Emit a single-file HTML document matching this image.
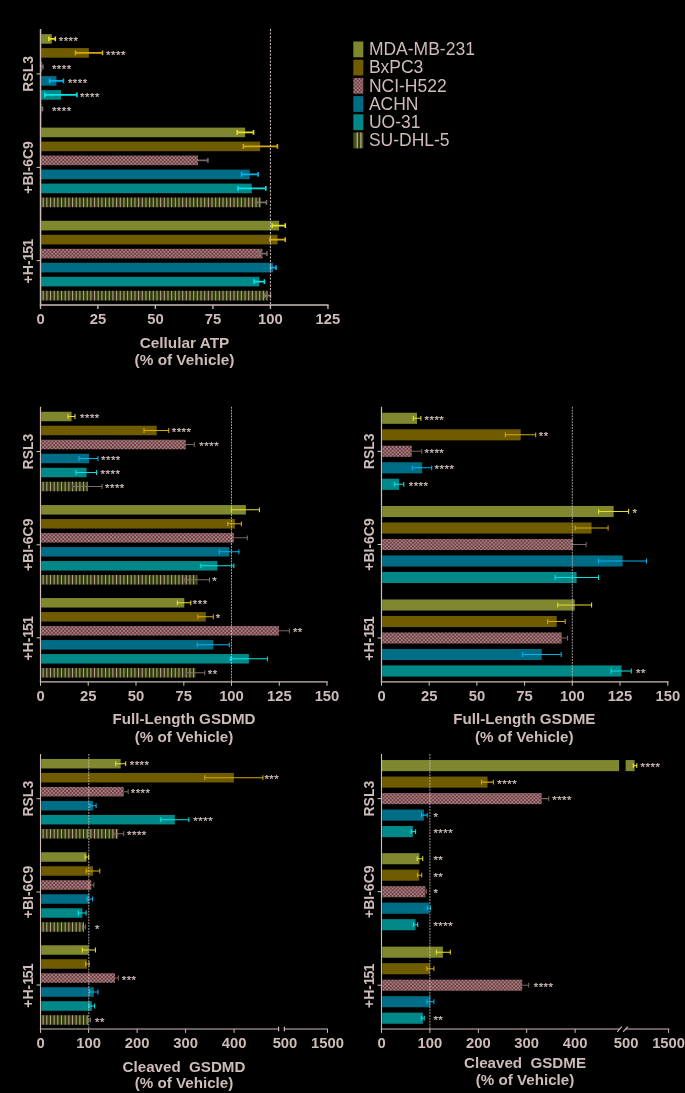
<!DOCTYPE html>
<html><head><meta charset="utf-8"><title>Figure</title>
<style>html,body{margin:0;padding:0;background:#000;}body{width:685px;height:1093px;overflow:hidden;font-family:"Liberation Sans",sans-serif;}svg{display:block;will-change:transform}</style>
</head><body>
<svg width="685" height="1093" viewBox="0 0 685 1093" font-family="'Liberation Sans', sans-serif" fill="#cdbcb9">
<defs>
<pattern id="chk" x="42.1" y="0.74" width="3.68" height="3.68" patternUnits="userSpaceOnUse">
<rect width="3.68" height="3.68" fill="#7b3438"/><rect x="0" y="0" width="1.84" height="1.84" fill="#978689"/><rect x="1.84" y="1.84" width="1.84" height="1.84" fill="#978689"/>
</pattern>
<pattern id="str" x="42.3" y="0" width="3.67" height="20" patternUnits="userSpaceOnUse">
<rect width="3.67" height="20" fill="#3a4709"/><rect x="0" y="0" width="1.35" height="20" fill="#9a8a7e"/>
</pattern>
<pattern id="strleg" x="356.6" y="0" width="3.67" height="20" patternUnits="userSpaceOnUse">
<rect width="3.67" height="20" fill="#47530f"/><rect x="0" y="0" width="1.4" height="20" fill="#b39f96"/>
</pattern>
</defs>
<rect width="685" height="1093" fill="#000"/>
<rect x="41.25" y="34.10" width="10.55" height="9.60" fill="#7f882f"/>
<path d="M48.80 38.90H55.30M55.30 36.50v4.8M48.80 36.50v4.8" stroke="#e6e02a" stroke-width="1.6" fill="none"/>
<text x="58.70" y="44.50" font-size="11.5" letter-spacing="0.47" text-anchor="start" font-weight="normal" stroke="#cdbcb9" stroke-width="0.25">****</text>
<rect x="41.25" y="48.10" width="47.65" height="9.60" fill="#6f5c00"/>
<path d="M75.50 52.90H102.50M102.50 50.50v4.8M75.50 50.50v4.8" stroke="#d6aa00" stroke-width="1.6" fill="none"/>
<text x="106.10" y="58.50" font-size="11.5" letter-spacing="0.47" text-anchor="start" font-weight="normal" stroke="#cdbcb9" stroke-width="0.25">****</text>
<rect x="41.25" y="62.10" width="0.85" height="9.60" fill="url(#chk)"/>
<path d="M42.10 66.90H42.90M42.90 64.50v4.8" stroke="#7a6666" stroke-width="1.6" fill="none"/>
<text x="51.90" y="72.50" font-size="11.5" letter-spacing="0.47" text-anchor="start" font-weight="normal" stroke="#cdbcb9" stroke-width="0.25">****</text>
<rect x="41.25" y="76.10" width="15.25" height="9.60" fill="#006d87"/>
<path d="M49.60 80.90H63.40M63.40 78.50v4.8M49.60 78.50v4.8" stroke="#00b4ee" stroke-width="1.6" fill="none"/>
<text x="67.90" y="86.50" font-size="11.5" letter-spacing="0.47" text-anchor="start" font-weight="normal" stroke="#cdbcb9" stroke-width="0.25">****</text>
<rect x="41.25" y="90.10" width="19.75" height="9.60" fill="#008988"/>
<path d="M44.80 94.90H76.90M76.90 92.50v4.8M44.80 92.50v4.8" stroke="#00e6e6" stroke-width="1.6" fill="none"/>
<text x="80.10" y="100.50" font-size="11.5" letter-spacing="0.47" text-anchor="start" font-weight="normal" stroke="#cdbcb9" stroke-width="0.25">****</text>
<rect x="41.25" y="104.10" width="0.65" height="9.60" fill="#2f3e05"/>
<path d="M41.25 108.90H41.90" stroke="#b89c98" stroke-width="9.60" stroke-dasharray="1.1 2.57" stroke-dashoffset="2.27" fill="none"/>
<path d="M41.90 108.90H42.50M42.50 106.50v4.8" stroke="#7c7068" stroke-width="1.6" fill="none"/>
<text x="51.90" y="114.50" font-size="11.5" letter-spacing="0.47" text-anchor="start" font-weight="normal" stroke="#cdbcb9" stroke-width="0.25">****</text>
<rect x="41.25" y="127.60" width="203.85" height="9.60" fill="#7f882f"/>
<path d="M237.20 132.40H253.50M253.50 130.00v4.8M237.20 130.00v4.8" stroke="#e6e02a" stroke-width="1.6" fill="none"/>
<rect x="41.25" y="141.60" width="218.85" height="9.60" fill="#6f5c00"/>
<path d="M243.40 146.40H277.40M277.40 144.00v4.8M243.40 144.00v4.8" stroke="#d6aa00" stroke-width="1.6" fill="none"/>
<rect x="41.25" y="155.60" width="156.75" height="9.60" fill="url(#chk)"/>
<path d="M198.00 160.40H207.90M207.90 158.00v4.8" stroke="#7a6666" stroke-width="1.6" fill="none"/>
<rect x="41.25" y="169.60" width="208.55" height="9.60" fill="#006d87"/>
<path d="M241.50 174.40H258.10M258.10 172.00v4.8M241.50 172.00v4.8" stroke="#00b4ee" stroke-width="1.6" fill="none"/>
<rect x="41.25" y="183.60" width="210.55" height="9.60" fill="#008988"/>
<path d="M238.00 188.40H265.80M265.80 186.00v4.8M238.00 186.00v4.8" stroke="#00e6e6" stroke-width="1.6" fill="none"/>
<rect x="41.25" y="197.60" width="219.55" height="9.60" fill="#2f3e05"/>
<path d="M41.25 202.40H260.80" stroke="#b89c98" stroke-width="9.60" stroke-dasharray="1.1 2.57" stroke-dashoffset="2.27" fill="none"/>
<path d="M256.00 202.40H266.50M266.50 200.00v4.8M256.00 200.00v4.8" stroke="#7c7068" stroke-width="1.6" fill="none"/>
<rect x="41.25" y="220.80" width="237.85" height="9.60" fill="#7f882f"/>
<path d="M272.20 225.60H285.30M285.30 223.20v4.8M272.20 223.20v4.8" stroke="#e6e02a" stroke-width="1.6" fill="none"/>
<rect x="41.25" y="234.80" width="236.35" height="9.60" fill="#6f5c00"/>
<path d="M270.00 239.60H285.20M285.20 237.20v4.8M270.00 237.20v4.8" stroke="#d6aa00" stroke-width="1.6" fill="none"/>
<rect x="41.25" y="248.80" width="221.15" height="9.60" fill="url(#chk)"/>
<path d="M258.00 253.60H266.90M266.90 251.20v4.8M258.00 251.20v4.8" stroke="#7a6666" stroke-width="1.6" fill="none"/>
<rect x="41.25" y="262.80" width="231.75" height="9.60" fill="#006d87"/>
<path d="M270.50 267.60H276.00M276.00 265.20v4.8M270.50 265.20v4.8" stroke="#00b4ee" stroke-width="1.6" fill="none"/>
<rect x="41.25" y="276.80" width="218.05" height="9.60" fill="#008988"/>
<path d="M254.20 281.60H264.40M264.40 279.20v4.8M254.20 279.20v4.8" stroke="#00e6e6" stroke-width="1.6" fill="none"/>
<rect x="41.25" y="290.80" width="226.25" height="9.60" fill="#2f3e05"/>
<path d="M41.25 295.60H267.50" stroke="#b89c98" stroke-width="9.60" stroke-dasharray="1.1 2.57" stroke-dashoffset="2.27" fill="none"/>
<path d="M264.60 295.60H270.50M270.50 293.20v4.8M264.60 293.20v4.8" stroke="#7c7068" stroke-width="1.6" fill="none"/>
<path d="M270.40 29.00V305.00" stroke="#cdbcb9" stroke-width="1" stroke-opacity="1" stroke-dasharray="2.2 1.3" fill="none"/>
<path d="M40.55 29.00V305.70" stroke="#cdbcb9" stroke-width="1.5" fill="none"/>
<path d="M39.85 305.00H328.60" stroke="#cdbcb9" stroke-width="1.5" fill="none"/>
<path d="M40.50 305.00v3.9" stroke="#cdbcb9" stroke-width="1.35" fill="none"/>
<text x="40.5" y="323.7" font-size="14.8" font-weight="bold" text-anchor="middle">0</text>
<path d="M97.90 305.00v3.9" stroke="#cdbcb9" stroke-width="1.35" fill="none"/>
<text x="97.9" y="323.7" font-size="14.8" font-weight="bold" text-anchor="middle">25</text>
<path d="M155.40 305.00v3.9" stroke="#cdbcb9" stroke-width="1.35" fill="none"/>
<text x="155.4" y="323.7" font-size="14.8" font-weight="bold" text-anchor="middle">50</text>
<path d="M212.90 305.00v3.9" stroke="#cdbcb9" stroke-width="1.35" fill="none"/>
<text x="212.9" y="323.7" font-size="14.8" font-weight="bold" text-anchor="middle">75</text>
<path d="M270.40 305.00v3.9" stroke="#cdbcb9" stroke-width="1.35" fill="none"/>
<text x="270.4" y="323.7" font-size="14.8" font-weight="bold" text-anchor="middle">100</text>
<path d="M327.95 305.00v3.9" stroke="#cdbcb9" stroke-width="1.35" fill="none"/>
<text x="327.95" y="323.7" font-size="14.8" font-weight="bold" text-anchor="middle">125</text>
<path d="M36.55 73.90H40.55" stroke="#cdbcb9" stroke-width="1.05" fill="none"/>
<text x="33.349999999999994" y="73.9" font-size="14" font-weight="bold" text-anchor="middle" transform="rotate(-90 33.349999999999994 73.9)">RSL3</text>
<path d="M36.55 167.40H40.55" stroke="#cdbcb9" stroke-width="1.05" fill="none"/>
<text x="33.349999999999994" y="167.4" font-size="14" font-weight="bold" text-anchor="middle" transform="rotate(-90 33.349999999999994 167.4)">+BI-6C9</text>
<path d="M36.55 260.60H40.55" stroke="#cdbcb9" stroke-width="1.05" fill="none"/>
<text x="33.349999999999994" y="261.20000000000005" font-size="14" font-weight="bold" text-anchor="middle" transform="rotate(-90 33.349999999999994 261.20000000000005)">+H-1<tspan dx="-1.2">5</tspan><tspan dx="-0.8">1</tspan></text>
<text x="184.5" y="347.5" font-size="15.35" font-weight="bold" text-anchor="middle" xml:space="preserve" style="white-space:pre">Cellular ATP</text>
<text x="184.5" y="365.0" font-size="15.35" font-weight="bold" text-anchor="middle">(% of Vehicle)</text>
<rect x="41.20" y="411.75" width="30.40" height="9.50" fill="#7f882f"/>
<path d="M68.00 416.50H75.00M75.00 414.10v4.8M68.00 414.10v4.8" stroke="#e6e02a" stroke-width="1.05" fill="none"/>
<text x="80.00" y="422.10" font-size="11.5" letter-spacing="0.47" text-anchor="start" font-weight="normal" stroke="#cdbcb9" stroke-width="0.25">****</text>
<rect x="41.20" y="425.75" width="115.50" height="9.50" fill="#6f5c00"/>
<path d="M144.00 430.50H168.70M168.70 428.10v4.8M144.00 428.10v4.8" stroke="#d6aa00" stroke-width="1.05" fill="none"/>
<text x="171.70" y="436.10" font-size="11.5" letter-spacing="0.47" text-anchor="start" font-weight="normal" stroke="#cdbcb9" stroke-width="0.25">****</text>
<rect x="41.20" y="439.75" width="144.60" height="9.50" fill="url(#chk)"/>
<path d="M185.80 444.50H194.30M194.30 442.10v4.8" stroke="#7a6666" stroke-width="1.05" fill="none"/>
<text x="199.30" y="450.10" font-size="11.5" letter-spacing="0.47" text-anchor="start" font-weight="normal" stroke="#cdbcb9" stroke-width="0.25">****</text>
<rect x="41.20" y="453.75" width="47.80" height="9.50" fill="#006d87"/>
<path d="M79.00 458.50H98.00M98.00 456.10v4.8M79.00 456.10v4.8" stroke="#00b4ee" stroke-width="1.05" fill="none"/>
<text x="101.00" y="464.10" font-size="11.5" letter-spacing="0.47" text-anchor="start" font-weight="normal" stroke="#cdbcb9" stroke-width="0.25">****</text>
<rect x="41.20" y="467.75" width="45.40" height="9.50" fill="#008988"/>
<path d="M76.00 472.50H96.60M96.60 470.10v4.8M76.00 470.10v4.8" stroke="#00e6e6" stroke-width="1.05" fill="none"/>
<text x="100.60" y="478.10" font-size="11.5" letter-spacing="0.47" text-anchor="start" font-weight="normal" stroke="#cdbcb9" stroke-width="0.25">****</text>
<rect x="41.20" y="481.75" width="46.40" height="9.50" fill="#2f3e05"/>
<path d="M41.20 486.50H87.60" stroke="#b89c98" stroke-width="9.50" stroke-dasharray="1.1 2.57" stroke-dashoffset="2.27" fill="none"/>
<path d="M72.60 486.50H102.00M102.00 484.10v4.8M72.60 484.10v4.8" stroke="#7c7068" stroke-width="1.05" fill="none"/>
<text x="105.00" y="492.10" font-size="11.5" letter-spacing="0.47" text-anchor="start" font-weight="normal" stroke="#cdbcb9" stroke-width="0.25">****</text>
<rect x="41.20" y="505.05" width="204.70" height="9.50" fill="#7f882f"/>
<path d="M231.30 509.80H259.40M259.40 507.40v4.8M231.30 507.40v4.8" stroke="#e6e02a" stroke-width="1.05" fill="none"/>
<rect x="41.20" y="519.05" width="193.70" height="9.50" fill="#6f5c00"/>
<path d="M227.80 523.80H241.40M241.40 521.40v4.8M227.80 521.40v4.8" stroke="#d6aa00" stroke-width="1.05" fill="none"/>
<rect x="41.20" y="533.05" width="192.70" height="9.50" fill="url(#chk)"/>
<path d="M233.90 537.80H247.40M247.40 535.40v4.8" stroke="#7a6666" stroke-width="1.05" fill="none"/>
<rect x="41.20" y="547.05" width="188.10" height="9.50" fill="#006d87"/>
<path d="M219.30 551.80H238.90M238.90 549.40v4.8M219.30 549.40v4.8" stroke="#00b4ee" stroke-width="1.05" fill="none"/>
<rect x="41.20" y="561.05" width="176.10" height="9.50" fill="#008988"/>
<path d="M200.80 565.80H233.90M233.90 563.40v4.8M200.80 563.40v4.8" stroke="#00e6e6" stroke-width="1.05" fill="none"/>
<rect x="41.20" y="575.05" width="156.00" height="9.50" fill="#2f3e05"/>
<path d="M41.20 579.80H197.20" stroke="#b89c98" stroke-width="9.50" stroke-dasharray="1.1 2.57" stroke-dashoffset="2.27" fill="none"/>
<path d="M185.00 579.80H209.50M209.50 577.40v4.8M185.00 577.40v4.8" stroke="#7c7068" stroke-width="1.05" fill="none"/>
<text x="212.30" y="585.40" font-size="11.5" letter-spacing="0.47" text-anchor="start" font-weight="normal" stroke="#cdbcb9" stroke-width="0.25">*</text>
<rect x="41.20" y="598.05" width="143.10" height="9.50" fill="#7f882f"/>
<path d="M177.30 602.80H190.80M190.80 600.40v4.8M177.30 600.40v4.8" stroke="#e6e02a" stroke-width="1.05" fill="none"/>
<text x="192.80" y="608.40" font-size="11.5" letter-spacing="0.47" text-anchor="start" font-weight="normal" stroke="#cdbcb9" stroke-width="0.25">***</text>
<rect x="41.20" y="612.05" width="164.60" height="9.50" fill="#6f5c00"/>
<path d="M197.80 616.80H213.30M213.30 614.40v4.8M197.80 614.40v4.8" stroke="#d6aa00" stroke-width="1.05" fill="none"/>
<text x="215.80" y="622.40" font-size="11.5" letter-spacing="0.47" text-anchor="start" font-weight="normal" stroke="#cdbcb9" stroke-width="0.25">*</text>
<rect x="41.20" y="626.05" width="237.70" height="9.50" fill="url(#chk)"/>
<path d="M278.90 630.80H289.40M289.40 628.40v4.8" stroke="#7a6666" stroke-width="1.05" fill="none"/>
<text x="292.90" y="636.40" font-size="11.5" letter-spacing="0.47" text-anchor="start" font-weight="normal" stroke="#cdbcb9" stroke-width="0.25">**</text>
<rect x="41.20" y="640.05" width="172.10" height="9.50" fill="#006d87"/>
<path d="M197.30 644.80H229.30M229.30 642.40v4.8M197.30 642.40v4.8" stroke="#00b4ee" stroke-width="1.05" fill="none"/>
<rect x="41.20" y="654.05" width="207.70" height="9.50" fill="#008988"/>
<path d="M230.30 658.80H267.40M267.40 656.40v4.8M230.30 656.40v4.8" stroke="#00e6e6" stroke-width="1.05" fill="none"/>
<rect x="41.20" y="668.05" width="154.40" height="9.50" fill="#2f3e05"/>
<path d="M41.20 672.80H195.60" stroke="#b89c98" stroke-width="9.50" stroke-dasharray="1.1 2.57" stroke-dashoffset="2.27" fill="none"/>
<path d="M186.40 672.80H204.80M204.80 670.40v4.8M186.40 670.40v4.8" stroke="#7c7068" stroke-width="1.05" fill="none"/>
<text x="207.80" y="678.40" font-size="11.5" letter-spacing="0.47" text-anchor="start" font-weight="normal" stroke="#cdbcb9" stroke-width="0.25">**</text>
<path d="M231.50 406.80V681.90" stroke="#cdbcb9" stroke-width="1" stroke-opacity="0.85" stroke-dasharray="1.85 1.05" fill="none"/>
<path d="M40.50 406.80V682.60" stroke="#cdbcb9" stroke-width="1.2" fill="none"/>
<path d="M39.85 681.90H327.70" stroke="#cdbcb9" stroke-width="1.2" fill="none"/>
<path d="M40.50 681.90v3.9" stroke="#cdbcb9" stroke-width="1.05" fill="none"/>
<text x="40.5" y="700.6" font-size="14.8" font-weight="bold" text-anchor="middle">0</text>
<path d="M88.25 681.90v3.9" stroke="#cdbcb9" stroke-width="1.05" fill="none"/>
<text x="88.25" y="700.6" font-size="14.8" font-weight="bold" text-anchor="middle">25</text>
<path d="M136.00 681.90v3.9" stroke="#cdbcb9" stroke-width="1.05" fill="none"/>
<text x="136.0" y="700.6" font-size="14.8" font-weight="bold" text-anchor="middle">50</text>
<path d="M183.80 681.90v3.9" stroke="#cdbcb9" stroke-width="1.05" fill="none"/>
<text x="183.8" y="700.6" font-size="14.8" font-weight="bold" text-anchor="middle">75</text>
<path d="M231.50 681.90v3.9" stroke="#cdbcb9" stroke-width="1.05" fill="none"/>
<text x="231.5" y="700.6" font-size="14.8" font-weight="bold" text-anchor="middle">100</text>
<path d="M279.30 681.90v3.9" stroke="#cdbcb9" stroke-width="1.05" fill="none"/>
<text x="279.3" y="700.6" font-size="14.8" font-weight="bold" text-anchor="middle">125</text>
<path d="M327.00 681.90v3.9" stroke="#cdbcb9" stroke-width="1.05" fill="none"/>
<text x="327.0" y="700.6" font-size="14.8" font-weight="bold" text-anchor="middle">150</text>
<path d="M36.50 451.50H40.50" stroke="#cdbcb9" stroke-width="1.05" fill="none"/>
<text x="33.3" y="451.5" font-size="14" font-weight="bold" text-anchor="middle" transform="rotate(-90 33.3 451.5)">RSL3</text>
<path d="M36.50 544.80H40.50" stroke="#cdbcb9" stroke-width="1.05" fill="none"/>
<text x="33.3" y="544.8" font-size="14" font-weight="bold" text-anchor="middle" transform="rotate(-90 33.3 544.8)">+BI-6C9</text>
<path d="M36.50 637.80H40.50" stroke="#cdbcb9" stroke-width="1.05" fill="none"/>
<text x="33.3" y="638.4" font-size="14" font-weight="bold" text-anchor="middle" transform="rotate(-90 33.3 638.4)">+H-1<tspan dx="-1.2">5</tspan><tspan dx="-0.8">1</tspan></text>
<text x="184" y="724.4" font-size="15.15" font-weight="bold" text-anchor="middle" xml:space="preserve" style="white-space:pre">Full-Length GSDMD</text>
<text x="184" y="741.9" font-size="15.15" font-weight="bold" text-anchor="middle">(% of Vehicle)</text>
<rect x="382.20" y="412.75" width="34.80" height="11.10" fill="#7f882f"/>
<path d="M413.30 418.30H420.90M420.90 415.90v4.8M413.30 415.90v4.8" stroke="#e6e02a" stroke-width="1.05" fill="none"/>
<text x="424.50" y="423.90" font-size="11.5" letter-spacing="0.47" text-anchor="start" font-weight="normal" stroke="#cdbcb9" stroke-width="0.25">****</text>
<rect x="382.20" y="429.25" width="138.50" height="11.10" fill="#6f5c00"/>
<path d="M505.30 434.80H535.70M535.70 432.40v4.8M505.30 432.40v4.8" stroke="#d6aa00" stroke-width="1.05" fill="none"/>
<text x="538.70" y="440.40" font-size="11.5" letter-spacing="0.47" text-anchor="start" font-weight="normal" stroke="#cdbcb9" stroke-width="0.25">**</text>
<rect x="382.20" y="445.75" width="29.50" height="11.10" fill="url(#chk)"/>
<path d="M411.70 451.30H421.80M421.80 448.90v4.8" stroke="#7a6666" stroke-width="1.05" fill="none"/>
<text x="424.50" y="456.90" font-size="11.5" letter-spacing="0.47" text-anchor="start" font-weight="normal" stroke="#cdbcb9" stroke-width="0.25">****</text>
<rect x="382.20" y="462.25" width="39.90" height="11.10" fill="#006d87"/>
<path d="M412.30 467.80H431.70M431.70 465.40v4.8M412.30 465.40v4.8" stroke="#00b4ee" stroke-width="1.05" fill="none"/>
<text x="434.60" y="473.40" font-size="11.5" letter-spacing="0.47" text-anchor="start" font-weight="normal" stroke="#cdbcb9" stroke-width="0.25">****</text>
<rect x="382.20" y="478.75" width="16.90" height="11.10" fill="#008988"/>
<path d="M394.60 484.30H403.80M403.80 481.90v4.8M394.60 481.90v4.8" stroke="#00e6e6" stroke-width="1.05" fill="none"/>
<text x="408.70" y="489.90" font-size="11.5" letter-spacing="0.47" text-anchor="start" font-weight="normal" stroke="#cdbcb9" stroke-width="0.25">****</text>
<rect x="382.20" y="505.95" width="231.40" height="11.10" fill="#7f882f"/>
<path d="M598.60 511.50H628.60M628.60 509.10v4.8M598.60 509.10v4.8" stroke="#e6e02a" stroke-width="1.05" fill="none"/>
<text x="632.60" y="517.10" font-size="11.5" letter-spacing="0.47" text-anchor="start" font-weight="normal" stroke="#cdbcb9" stroke-width="0.25">*</text>
<rect x="382.20" y="522.45" width="209.40" height="11.10" fill="#6f5c00"/>
<path d="M575.20 528.00H608.10M608.10 525.60v4.8M575.20 525.60v4.8" stroke="#d6aa00" stroke-width="1.05" fill="none"/>
<rect x="382.20" y="538.95" width="190.50" height="11.10" fill="url(#chk)"/>
<path d="M572.70 544.50H586.10M586.10 542.10v4.8" stroke="#7a6666" stroke-width="1.05" fill="none"/>
<rect x="382.20" y="555.45" width="240.40" height="11.10" fill="#006d87"/>
<path d="M598.60 561.00H646.50M646.50 558.60v4.8M598.60 558.60v4.8" stroke="#00b4ee" stroke-width="1.05" fill="none"/>
<rect x="382.20" y="571.95" width="194.40" height="11.10" fill="#008988"/>
<path d="M555.20 577.50H598.60M598.60 575.10v4.8M555.20 575.10v4.8" stroke="#00e6e6" stroke-width="1.05" fill="none"/>
<rect x="382.20" y="599.45" width="192.50" height="11.10" fill="#7f882f"/>
<path d="M557.70 605.00H591.60M591.60 602.60v4.8M557.70 602.60v4.8" stroke="#e6e02a" stroke-width="1.05" fill="none"/>
<rect x="382.20" y="615.95" width="174.50" height="11.10" fill="#6f5c00"/>
<path d="M547.70 621.50H565.20M565.20 619.10v4.8M547.70 619.10v4.8" stroke="#d6aa00" stroke-width="1.05" fill="none"/>
<rect x="382.20" y="632.45" width="179.50" height="11.10" fill="url(#chk)"/>
<path d="M561.70 638.00H567.50M567.50 635.60v4.8" stroke="#7a6666" stroke-width="1.05" fill="none"/>
<rect x="382.20" y="648.95" width="159.50" height="11.10" fill="#006d87"/>
<path d="M522.70 654.50H561.20M561.20 652.10v4.8M522.70 652.10v4.8" stroke="#00b4ee" stroke-width="1.05" fill="none"/>
<rect x="382.20" y="665.45" width="239.40" height="11.10" fill="#008988"/>
<path d="M611.10 671.00H631.30M631.30 668.60v4.8M611.10 668.60v4.8" stroke="#00e6e6" stroke-width="1.05" fill="none"/>
<text x="636.10" y="676.60" font-size="11.5" letter-spacing="0.47" text-anchor="start" font-weight="normal" stroke="#cdbcb9" stroke-width="0.25">**</text>
<path d="M572.30 406.80V681.80" stroke="#cdbcb9" stroke-width="1" stroke-opacity="0.85" stroke-dasharray="1.85 1.05" fill="none"/>
<path d="M381.50 406.80V682.50" stroke="#cdbcb9" stroke-width="1.2" fill="none"/>
<path d="M380.85 681.80H668.60" stroke="#cdbcb9" stroke-width="1.2" fill="none"/>
<path d="M381.50 681.80v3.9" stroke="#cdbcb9" stroke-width="1.05" fill="none"/>
<text x="381.5" y="700.5" font-size="14.8" font-weight="bold" text-anchor="middle">0</text>
<path d="M429.20 681.80v3.9" stroke="#cdbcb9" stroke-width="1.05" fill="none"/>
<text x="429.2" y="700.5" font-size="14.8" font-weight="bold" text-anchor="middle">25</text>
<path d="M476.90 681.80v3.9" stroke="#cdbcb9" stroke-width="1.05" fill="none"/>
<text x="476.9" y="700.5" font-size="14.8" font-weight="bold" text-anchor="middle">50</text>
<path d="M524.60 681.80v3.9" stroke="#cdbcb9" stroke-width="1.05" fill="none"/>
<text x="524.6" y="700.5" font-size="14.8" font-weight="bold" text-anchor="middle">75</text>
<path d="M572.30 681.80v3.9" stroke="#cdbcb9" stroke-width="1.05" fill="none"/>
<text x="572.3" y="700.5" font-size="14.8" font-weight="bold" text-anchor="middle">100</text>
<path d="M620.00 681.80v3.9" stroke="#cdbcb9" stroke-width="1.05" fill="none"/>
<text x="620.0" y="700.5" font-size="14.8" font-weight="bold" text-anchor="middle">125</text>
<path d="M667.80 681.80v3.9" stroke="#cdbcb9" stroke-width="1.05" fill="none"/>
<text x="667.8" y="700.5" font-size="14.8" font-weight="bold" text-anchor="middle">150</text>
<path d="M377.50 451.30H381.50" stroke="#cdbcb9" stroke-width="1.05" fill="none"/>
<text x="374.3" y="451.3" font-size="14" font-weight="bold" text-anchor="middle" transform="rotate(-90 374.3 451.3)">RSL3</text>
<path d="M377.50 544.50H381.50" stroke="#cdbcb9" stroke-width="1.05" fill="none"/>
<text x="374.3" y="544.5" font-size="14" font-weight="bold" text-anchor="middle" transform="rotate(-90 374.3 544.5)">+BI-6C9</text>
<path d="M377.50 638.00H381.50" stroke="#cdbcb9" stroke-width="1.05" fill="none"/>
<text x="374.3" y="638.6" font-size="14" font-weight="bold" text-anchor="middle" transform="rotate(-90 374.3 638.6)">+H-1<tspan dx="-1.2">5</tspan><tspan dx="-0.8">1</tspan></text>
<text x="524.3" y="724.3" font-size="15.15" font-weight="bold" text-anchor="middle" xml:space="preserve" style="white-space:pre">Full-Length GSDME</text>
<text x="524.3" y="741.8" font-size="15.15" font-weight="bold" text-anchor="middle">(% of Vehicle)</text>
<rect x="41.20" y="758.95" width="79.50" height="9.50" fill="#7f882f"/>
<path d="M115.70 763.70H125.70M125.70 761.30v4.8M115.70 761.30v4.8" stroke="#e6e02a" stroke-width="1.05" fill="none"/>
<text x="129.70" y="769.30" font-size="11.5" letter-spacing="0.47" text-anchor="start" font-weight="normal" stroke="#cdbcb9" stroke-width="0.25">****</text>
<rect x="41.20" y="772.95" width="192.70" height="9.50" fill="#6f5c00"/>
<path d="M204.80 777.70H262.90M262.90 775.30v4.8M204.80 775.30v4.8" stroke="#d6aa00" stroke-width="1.05" fill="none"/>
<text x="264.40" y="783.30" font-size="11.5" letter-spacing="0.47" text-anchor="start" font-weight="normal" stroke="#cdbcb9" stroke-width="0.25">***</text>
<rect x="41.20" y="786.95" width="82.50" height="9.50" fill="url(#chk)"/>
<path d="M123.70 791.70H128.20M128.20 789.30v4.8" stroke="#7a6666" stroke-width="1.05" fill="none"/>
<text x="130.70" y="797.30" font-size="11.5" letter-spacing="0.47" text-anchor="start" font-weight="normal" stroke="#cdbcb9" stroke-width="0.25">****</text>
<rect x="41.20" y="800.95" width="51.90" height="9.50" fill="#006d87"/>
<path d="M90.10 805.70H96.10M96.10 803.30v4.8M90.10 803.30v4.8" stroke="#00b4ee" stroke-width="1.05" fill="none"/>
<rect x="41.20" y="814.95" width="133.60" height="9.50" fill="#008988"/>
<path d="M160.70 819.70H188.80M188.80 817.30v4.8M160.70 817.30v4.8" stroke="#00e6e6" stroke-width="1.05" fill="none"/>
<text x="193.30" y="825.30" font-size="11.5" letter-spacing="0.47" text-anchor="start" font-weight="normal" stroke="#cdbcb9" stroke-width="0.25">****</text>
<rect x="41.20" y="828.95" width="77.20" height="9.50" fill="#2f3e05"/>
<path d="M41.20 833.70H118.40" stroke="#b89c98" stroke-width="9.50" stroke-dasharray="1.1 2.57" stroke-dashoffset="2.27" fill="none"/>
<path d="M113.00 833.70H123.70M123.70 831.30v4.8M113.00 831.30v4.8" stroke="#7c7068" stroke-width="1.05" fill="none"/>
<text x="127.00" y="839.30" font-size="11.5" letter-spacing="0.47" text-anchor="start" font-weight="normal" stroke="#cdbcb9" stroke-width="0.25">****</text>
<rect x="41.20" y="852.25" width="45.40" height="9.50" fill="#7f882f"/>
<path d="M85.10 857.00H88.60M88.60 854.60v4.8M85.10 854.60v4.8" stroke="#e6e02a" stroke-width="1.05" fill="none"/>
<rect x="41.20" y="866.25" width="51.80" height="9.50" fill="#6f5c00"/>
<path d="M86.20 871.00H99.80M99.80 868.60v4.8M86.20 868.60v4.8" stroke="#d6aa00" stroke-width="1.05" fill="none"/>
<rect x="41.20" y="880.25" width="50.10" height="9.50" fill="url(#chk)"/>
<path d="M91.30 885.00H93.80M93.80 882.60v4.8" stroke="#7a6666" stroke-width="1.05" fill="none"/>
<rect x="41.20" y="894.25" width="48.40" height="9.50" fill="#006d87"/>
<path d="M87.20 899.00H92.60M92.60 896.60v4.8M87.20 896.60v4.8" stroke="#00b4ee" stroke-width="1.05" fill="none"/>
<rect x="41.20" y="908.25" width="41.20" height="9.50" fill="#008988"/>
<path d="M78.30 913.00H86.10M86.10 910.60v4.8M78.30 910.60v4.8" stroke="#00e6e6" stroke-width="1.05" fill="none"/>
<rect x="41.20" y="922.25" width="42.70" height="9.50" fill="#2f3e05"/>
<path d="M41.20 927.00H83.90" stroke="#b89c98" stroke-width="9.50" stroke-dasharray="1.1 2.57" stroke-dashoffset="2.27" fill="none"/>
<path d="M82.60 927.00H85.40M85.40 924.60v4.8M82.60 924.60v4.8" stroke="#7c7068" stroke-width="1.05" fill="none"/>
<text x="95.10" y="932.60" font-size="11.5" letter-spacing="0.47" text-anchor="start" font-weight="normal" stroke="#cdbcb9" stroke-width="0.25">*</text>
<rect x="41.20" y="945.25" width="47.40" height="9.50" fill="#7f882f"/>
<path d="M82.30 950.00H95.50M95.50 947.60v4.8M82.30 947.60v4.8" stroke="#e6e02a" stroke-width="1.05" fill="none"/>
<rect x="41.20" y="959.25" width="45.90" height="9.50" fill="#6f5c00"/>
<path d="M85.60 964.00H89.10M89.10 961.60v4.8M85.60 961.60v4.8" stroke="#d6aa00" stroke-width="1.05" fill="none"/>
<rect x="41.20" y="973.25" width="73.80" height="9.50" fill="url(#chk)"/>
<path d="M115.00 978.00H118.40M118.40 975.60v4.8" stroke="#7a6666" stroke-width="1.05" fill="none"/>
<text x="121.70" y="983.60" font-size="11.5" letter-spacing="0.47" text-anchor="start" font-weight="normal" stroke="#cdbcb9" stroke-width="0.25">***</text>
<rect x="41.20" y="987.25" width="52.70" height="9.50" fill="#006d87"/>
<path d="M89.60 992.00H98.00M98.00 989.60v4.8M89.60 989.60v4.8" stroke="#00b4ee" stroke-width="1.05" fill="none"/>
<rect x="41.20" y="1001.25" width="50.70" height="9.50" fill="#008988"/>
<path d="M88.80 1006.00H94.70M94.70 1003.60v4.8M88.80 1003.60v4.8" stroke="#00e6e6" stroke-width="1.05" fill="none"/>
<rect x="41.20" y="1015.25" width="47.30" height="9.50" fill="#2f3e05"/>
<path d="M41.20 1020.00H88.50" stroke="#b89c98" stroke-width="9.50" stroke-dasharray="1.1 2.57" stroke-dashoffset="2.27" fill="none"/>
<path d="M87.00 1020.00H90.50M90.50 1017.60v4.8M87.00 1017.60v4.8" stroke="#7c7068" stroke-width="1.05" fill="none"/>
<text x="95.10" y="1025.60" font-size="11.5" letter-spacing="0.47" text-anchor="start" font-weight="normal" stroke="#cdbcb9" stroke-width="0.25">**</text>
<path d="M88.80 754.00V1029.00" stroke="#cdbcb9" stroke-width="1" stroke-opacity="0.85" stroke-dasharray="1.85 1.05" fill="none"/>
<path d="M40.50 754.00V1029.70" stroke="#cdbcb9" stroke-width="1.1" fill="none"/>
<path d="M39.85 1029.00H278.60" stroke="#cdbcb9" stroke-width="1.1" fill="none"/>
<path d="M284.40 1029.00H327.90" stroke="#cdbcb9" stroke-width="1.1" fill="none"/>
<path d="M278.60 1026.80v4.4" stroke="#cdbcb9" stroke-width="1.2" fill="none"/>
<path d="M284.40 1026.80v4.4" stroke="#cdbcb9" stroke-width="1.2" fill="none"/>
<path d="M40.50 1029.00v3.9" stroke="#cdbcb9" stroke-width="1.00" fill="none"/>
<text x="40.5" y="1047.7" font-size="14.8" font-weight="bold" text-anchor="middle">0</text>
<path d="M88.60 1029.00v3.9" stroke="#cdbcb9" stroke-width="1.00" fill="none"/>
<text x="88.6" y="1047.7" font-size="14.8" font-weight="bold" text-anchor="middle">100</text>
<path d="M137.10 1029.00v3.9" stroke="#cdbcb9" stroke-width="1.00" fill="none"/>
<text x="137.1" y="1047.7" font-size="14.8" font-weight="bold" text-anchor="middle">200</text>
<path d="M185.60 1029.00v3.9" stroke="#cdbcb9" stroke-width="1.00" fill="none"/>
<text x="185.6" y="1047.7" font-size="14.8" font-weight="bold" text-anchor="middle">300</text>
<path d="M234.10 1029.00v3.9" stroke="#cdbcb9" stroke-width="1.00" fill="none"/>
<text x="234.1" y="1047.7" font-size="14.8" font-weight="bold" text-anchor="middle">400</text>
<text x="285.0" y="1047.7" font-size="14.8" font-weight="bold" text-anchor="middle">500</text>
<path d="M327.50 1029.00v3.9" stroke="#cdbcb9" stroke-width="1.00" fill="none"/>
<text x="327.5" y="1047.7" font-size="14.8" font-weight="bold" text-anchor="middle">1500</text>
<path d="M36.50 798.70H40.50" stroke="#cdbcb9" stroke-width="1.05" fill="none"/>
<text x="33.3" y="798.7" font-size="14" font-weight="bold" text-anchor="middle" transform="rotate(-90 33.3 798.7)">RSL3</text>
<path d="M36.50 892.00H40.50" stroke="#cdbcb9" stroke-width="1.05" fill="none"/>
<text x="33.3" y="892.0" font-size="14" font-weight="bold" text-anchor="middle" transform="rotate(-90 33.3 892.0)">+BI-6C9</text>
<path d="M36.50 985.00H40.50" stroke="#cdbcb9" stroke-width="1.05" fill="none"/>
<text x="33.3" y="985.6" font-size="14" font-weight="bold" text-anchor="middle" transform="rotate(-90 33.3 985.6)">+H-1<tspan dx="-1.2">5</tspan><tspan dx="-0.8">1</tspan></text>
<text x="184" y="1071.6" font-size="15.15" font-weight="bold" text-anchor="middle" xml:space="preserve" style="white-space:pre">Cleaved  GSDMD</text>
<text x="184" y="1088.4" font-size="15.15" font-weight="bold" text-anchor="middle">(% of Vehicle)</text>
<rect x="382.00" y="760.05" width="237.10" height="11.10" fill="#7f882f"/>
<rect x="625.60" y="760.05" width="9.00" height="11.10" fill="#7f882f"/>
<path d="M633.30 765.60H636.80M636.80 763.20v4.8M633.30 763.20v4.8" stroke="#e6e02a" stroke-width="1.05" fill="none"/>
<text x="640.60" y="771.20" font-size="11.5" letter-spacing="0.47" text-anchor="start" font-weight="normal" stroke="#cdbcb9" stroke-width="0.25">****</text>
<rect x="382.20" y="776.55" width="105.30" height="11.10" fill="#6f5c00"/>
<path d="M481.60 782.10H493.40M493.40 779.70v4.8M481.60 779.70v4.8" stroke="#d6aa00" stroke-width="1.05" fill="none"/>
<text x="497.30" y="787.70" font-size="11.5" letter-spacing="0.47" text-anchor="start" font-weight="normal" stroke="#cdbcb9" stroke-width="0.25">****</text>
<rect x="382.20" y="793.05" width="159.50" height="11.10" fill="url(#chk)"/>
<path d="M541.70 798.60H548.70M548.70 796.20v4.8" stroke="#7a6666" stroke-width="1.05" fill="none"/>
<text x="552.20" y="804.20" font-size="11.5" letter-spacing="0.47" text-anchor="start" font-weight="normal" stroke="#cdbcb9" stroke-width="0.25">****</text>
<rect x="382.20" y="809.55" width="41.70" height="11.10" fill="#006d87"/>
<path d="M421.50 815.10H427.20M427.20 812.70v4.8M421.50 812.70v4.8" stroke="#00b4ee" stroke-width="1.05" fill="none"/>
<text x="433.40" y="820.70" font-size="11.5" letter-spacing="0.47" text-anchor="start" font-weight="normal" stroke="#cdbcb9" stroke-width="0.25">*</text>
<rect x="382.20" y="826.05" width="30.70" height="11.10" fill="#008988"/>
<path d="M411.10 831.60H415.60M415.60 829.20v4.8M411.10 829.20v4.8" stroke="#00e6e6" stroke-width="1.05" fill="none"/>
<text x="433.40" y="837.20" font-size="11.5" letter-spacing="0.47" text-anchor="start" font-weight="normal" stroke="#cdbcb9" stroke-width="0.25">****</text>
<rect x="382.20" y="853.15" width="37.30" height="11.10" fill="#7f882f"/>
<path d="M417.20 858.70H422.70M422.70 856.30v4.8M417.20 856.30v4.8" stroke="#e6e02a" stroke-width="1.05" fill="none"/>
<text x="433.40" y="864.30" font-size="11.5" letter-spacing="0.47" text-anchor="start" font-weight="normal" stroke="#cdbcb9" stroke-width="0.25">**</text>
<rect x="382.20" y="869.65" width="37.10" height="11.10" fill="#6f5c00"/>
<path d="M417.50 875.20H421.70M421.70 872.80v4.8M417.50 872.80v4.8" stroke="#d6aa00" stroke-width="1.05" fill="none"/>
<text x="433.40" y="880.80" font-size="11.5" letter-spacing="0.47" text-anchor="start" font-weight="normal" stroke="#cdbcb9" stroke-width="0.25">**</text>
<rect x="382.20" y="886.15" width="43.20" height="11.10" fill="url(#chk)"/>
<path d="M425.40 891.70H426.40M426.40 889.30v4.8" stroke="#7a6666" stroke-width="1.05" fill="none"/>
<text x="433.40" y="897.30" font-size="11.5" letter-spacing="0.47" text-anchor="start" font-weight="normal" stroke="#cdbcb9" stroke-width="0.25">*</text>
<rect x="382.20" y="902.65" width="46.80" height="11.10" fill="#006d87"/>
<path d="M427.20 908.20H430.60M430.60 905.80v4.8M427.20 905.80v4.8" stroke="#00b4ee" stroke-width="1.05" fill="none"/>
<rect x="382.20" y="919.15" width="33.30" height="11.10" fill="#008988"/>
<path d="M413.40 924.70H417.70M417.70 922.30v4.8M413.40 922.30v4.8" stroke="#00e6e6" stroke-width="1.05" fill="none"/>
<text x="433.40" y="930.30" font-size="11.5" letter-spacing="0.47" text-anchor="start" font-weight="normal" stroke="#cdbcb9" stroke-width="0.25">****</text>
<rect x="382.20" y="946.65" width="60.70" height="11.10" fill="#7f882f"/>
<path d="M436.40 952.20H450.30M450.30 949.80v4.8M436.40 949.80v4.8" stroke="#e6e02a" stroke-width="1.05" fill="none"/>
<rect x="382.20" y="963.15" width="47.70" height="11.10" fill="#6f5c00"/>
<path d="M426.90 968.70H433.90M433.90 966.30v4.8M426.90 966.30v4.8" stroke="#d6aa00" stroke-width="1.05" fill="none"/>
<rect x="382.20" y="979.65" width="140.00" height="11.10" fill="url(#chk)"/>
<path d="M522.20 985.20H528.70M528.70 982.80v4.8" stroke="#7a6666" stroke-width="1.05" fill="none"/>
<text x="533.70" y="990.80" font-size="11.5" letter-spacing="0.47" text-anchor="start" font-weight="normal" stroke="#cdbcb9" stroke-width="0.25">****</text>
<rect x="382.20" y="996.15" width="48.20" height="11.10" fill="#006d87"/>
<path d="M426.90 1001.70H433.90M433.90 999.30v4.8M426.90 999.30v4.8" stroke="#00b4ee" stroke-width="1.05" fill="none"/>
<rect x="382.20" y="1012.65" width="40.70" height="11.10" fill="#008988"/>
<path d="M421.30 1018.20H424.20M424.20 1015.80v4.8M421.30 1015.80v4.8" stroke="#00e6e6" stroke-width="1.05" fill="none"/>
<text x="433.40" y="1023.80" font-size="11.5" letter-spacing="0.47" text-anchor="start" font-weight="normal" stroke="#cdbcb9" stroke-width="0.25">**</text>
<path d="M429.90 754.00V1029.00" stroke="#cdbcb9" stroke-width="1" stroke-opacity="0.85" stroke-dasharray="1.85 1.05" fill="none"/>
<path d="M381.50 754.00V1029.70" stroke="#cdbcb9" stroke-width="1.1" fill="none"/>
<path d="M380.85 1029.00H619.60" stroke="#cdbcb9" stroke-width="1.1" fill="none"/>
<path d="M625.50 1029.00H669.20" stroke="#cdbcb9" stroke-width="1.1" fill="none"/>
<path d="M381.50 1029.00v3.9" stroke="#cdbcb9" stroke-width="1.00" fill="none"/>
<text x="381.5" y="1047.7" font-size="14.8" font-weight="bold" text-anchor="middle">0</text>
<path d="M429.90 1029.00v3.9" stroke="#cdbcb9" stroke-width="1.00" fill="none"/>
<text x="429.9" y="1047.7" font-size="14.8" font-weight="bold" text-anchor="middle">100</text>
<path d="M478.30 1029.00v3.9" stroke="#cdbcb9" stroke-width="1.00" fill="none"/>
<text x="478.3" y="1047.7" font-size="14.8" font-weight="bold" text-anchor="middle">200</text>
<path d="M526.70 1029.00v3.9" stroke="#cdbcb9" stroke-width="1.00" fill="none"/>
<text x="526.7" y="1047.7" font-size="14.8" font-weight="bold" text-anchor="middle">300</text>
<path d="M575.10 1029.00v3.9" stroke="#cdbcb9" stroke-width="1.00" fill="none"/>
<text x="575.1" y="1047.7" font-size="14.8" font-weight="bold" text-anchor="middle">400</text>
<text x="626.1" y="1047.7" font-size="14.8" font-weight="bold" text-anchor="middle">500</text>
<path d="M668.60 1029.00v3.9" stroke="#cdbcb9" stroke-width="1.00" fill="none"/>
<text x="668.6" y="1047.7" font-size="14.8" font-weight="bold" text-anchor="middle">1500</text>
<path d="M617.20 1031.80L621.90 1026.60" stroke="#cdbcb9" stroke-width="1.1" fill="none"/>
<path d="M623.10 1031.80L627.80 1026.60" stroke="#cdbcb9" stroke-width="1.1" fill="none"/>
<path d="M377.50 798.60H381.50" stroke="#cdbcb9" stroke-width="1.05" fill="none"/>
<text x="374.3" y="798.6" font-size="14" font-weight="bold" text-anchor="middle" transform="rotate(-90 374.3 798.6)">RSL3</text>
<path d="M377.50 891.70H381.50" stroke="#cdbcb9" stroke-width="1.05" fill="none"/>
<text x="374.3" y="891.7" font-size="14" font-weight="bold" text-anchor="middle" transform="rotate(-90 374.3 891.7)">+BI-6C9</text>
<path d="M377.50 985.20H381.50" stroke="#cdbcb9" stroke-width="1.05" fill="none"/>
<text x="374.3" y="985.8000000000001" font-size="14" font-weight="bold" text-anchor="middle" transform="rotate(-90 374.3 985.8000000000001)">+H-1<tspan dx="-1.2">5</tspan><tspan dx="-0.8">1</tspan></text>
<text x="525" y="1067.5" font-size="15.15" font-weight="bold" text-anchor="middle" xml:space="preserve" style="white-space:pre">Cleaved  GSDME</text>
<text x="525" y="1084.7" font-size="15.15" font-weight="bold" text-anchor="middle">(% of Vehicle)</text>
<rect x="353.30" y="41.50" width="10" height="15.8" fill="#7f882f"/>
<text x="368.90" y="55.10" font-size="17.5" font-weight="normal" text-anchor="start">MDA-MB-231</text>
<rect x="353.30" y="59.70" width="10" height="15.8" fill="#6f5c00"/>
<text x="368.90" y="73.30" font-size="17.5" font-weight="normal" text-anchor="start">BxPC3</text>
<rect x="353.30" y="77.90" width="10" height="15.8" fill="url(#chk)"/>
<text x="368.90" y="91.50" font-size="17.5" font-weight="normal" text-anchor="start">NCI-H522</text>
<rect x="353.30" y="96.10" width="10" height="15.8" fill="#006d87"/>
<text x="368.90" y="109.70" font-size="17.5" font-weight="normal" text-anchor="start">ACHN</text>
<rect x="353.30" y="114.30" width="10" height="15.8" fill="#008988"/>
<text x="368.90" y="127.90" font-size="17.5" font-weight="normal" text-anchor="start">UO-31</text>
<rect x="353.30" y="132.50" width="10" height="15.8" fill="#47530f"/>
<rect x="356.6" y="132.50" width="1.45" height="15.8" fill="#b39f96"/><rect x="360.1" y="132.50" width="1.45" height="15.8" fill="#b39f96"/><rect x="358.05" y="132.50" width="2.05" height="15.8" fill="#34420a"/>
<text x="368.90" y="146.10" font-size="17.5" font-weight="normal" text-anchor="start">SU-DHL-5</text>
</svg>
</body></html>
